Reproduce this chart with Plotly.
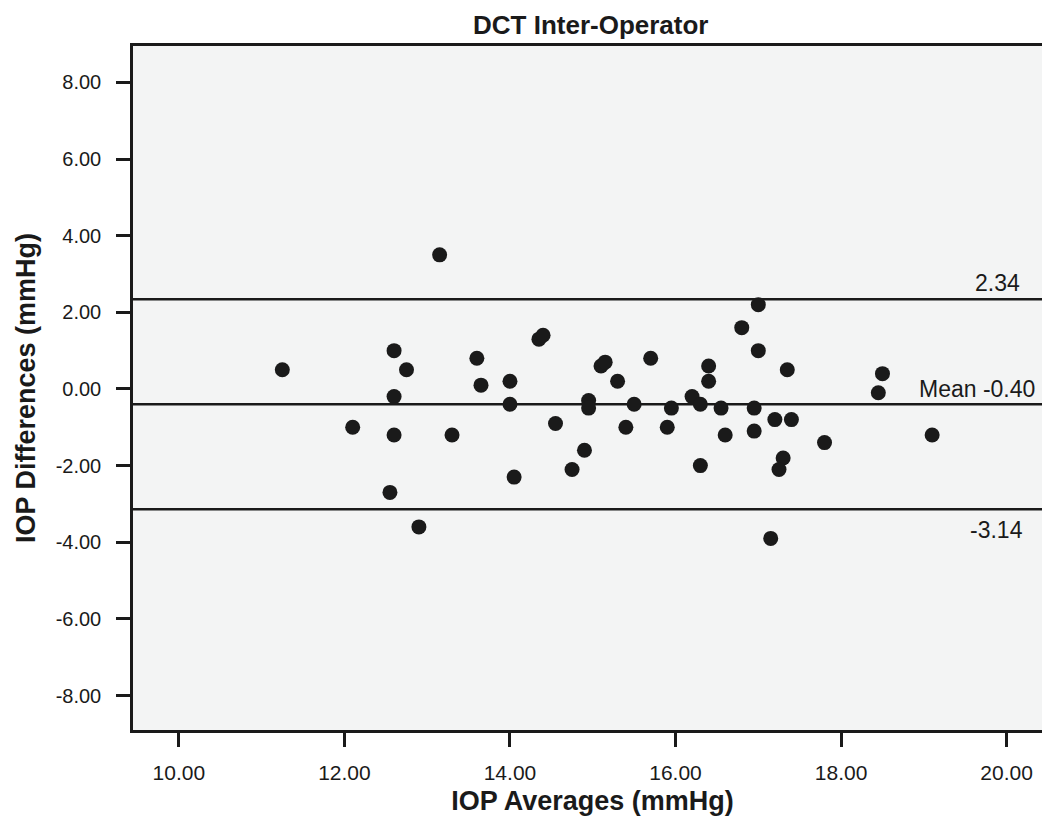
import plotly.graph_objects as go

iop_avg = [13.15, 11.25, 12.6, 12.75, 13.6, 13.65, 14.0, 14.0, 12.6, 12.1, 12.6, 13.3, 14.05,
           12.55, 12.9, 14.35, 14.4,
           14.55, 14.75, 14.9, 14.95, 14.95, 15.1, 15.15, 15.3, 15.4, 15.5, 15.7, 15.9, 15.95,
           16.2, 16.3, 16.3, 16.4, 16.4, 16.55, 16.6, 16.8, 17.0, 17.0, 16.95, 16.95, 17.15,
           17.2, 17.3, 17.25, 17.35, 17.4, 17.8,
           18.5, 18.45, 19.1]
iop_diff = [3.5, 0.5, 1.0, 0.5, 0.8, 0.1, 0.2, -0.4, -0.2, -1.0, -1.2, -1.2, -2.3,
            -2.7, -3.6, 1.3, 1.4,
            -0.9, -2.1, -1.6, -0.3, -0.5, 0.6, 0.7, 0.2, -1.0, -0.4, 0.8, -1.0, -0.5,
            -0.2, -0.4, -2.0, 0.6, 0.2, -0.5, -1.2, 1.6, 2.2, 1.0, -0.5, -1.1, -3.9,
            -0.8, -1.8, -2.1, 0.5, -0.8, -1.4,
            0.4, -0.1, -1.2]

ref_values = [2.34, -0.40, -3.14]
ref_labels = ["2.34", "Mean -0.40", "-3.14"]

x_ticks = [10, 12, 14, 16, 18, 20]
y_ticks = [8, 6, 4, 2, 0, -2, -4, -6, -8]

sans = "Liberation Sans, Arial, Helvetica, sans-serif"
ink = "#1a1a1a"

fig = go.Figure()
fig.add_trace(go.Scatter(
    x=iop_avg, y=iop_diff, mode="markers",
    marker=dict(size=15, color=ink, line=dict(width=0)),
    showlegend=False, hoverinfo="x+y"))

label_pos = [(0.967, 16), (0.984, 15), (0.971, -21)]
for v, lab, (px, sh) in zip(ref_values, ref_labels, label_pos):
    fig.add_shape(type="line", xref="paper", x0=0, x1=1, yref="y", y0=v, y1=v,
                  line=dict(color=ink, width=2.5))
    fig.add_annotation(xref="paper", x=px, y=v, yref="y", text=lab, showarrow=False,
                       xanchor="right", yshift=sh,
                       font=dict(family=sans, size=23, color=ink))

fig.update_layout(
    width=1050, height=818,
    paper_bgcolor="white", plot_bgcolor="#f3f4f4",
    margin=dict(l=125, r=3, t=38, b=96),
    title=dict(text="<b>DCT Inter-Operator</b>", x=0.555, xanchor="center",
               y=1 - 16.5 / 818, yanchor="middle",
               font=dict(family=sans, size=26, color=ink)),
    xaxis=dict(range=[9.446, 20.548], tickvals=x_ticks,
               ticktext=[f"{t:.2f}" for t in x_ticks],
               showgrid=False, zeroline=False,
               showline=True, mirror=True, linecolor=ink, linewidth=2.5,
               ticks="outside", ticklen=14, tickwidth=2.5, tickcolor=ink,
               ticklabelstandoff=8,
               tickfont=dict(family=sans, size=21, color=ink),
               title=dict(text="<b>IOP Averages (mmHg)</b>", standoff=9,
                          font=dict(family=sans, size=27, color=ink))),
    yaxis=dict(range=[-8.9, 8.95], tickvals=y_ticks,
               ticktext=[f"{t:.2f}" for t in y_ticks],
               showgrid=False, zeroline=False,
               showline=True, mirror=True, linecolor=ink, linewidth=2.5,
               ticks="outside", ticklen=14, tickwidth=2.5, tickcolor=ink,
               ticklabelstandoff=11,
               tickfont=dict(family=sans, size=20, color=ink),
               title=dict(text="<b>IOP Differences (mmHg)</b>", standoff=13,
                          font=dict(family=sans, size=27, color=ink))),
)

fig.write_html("out.html")
